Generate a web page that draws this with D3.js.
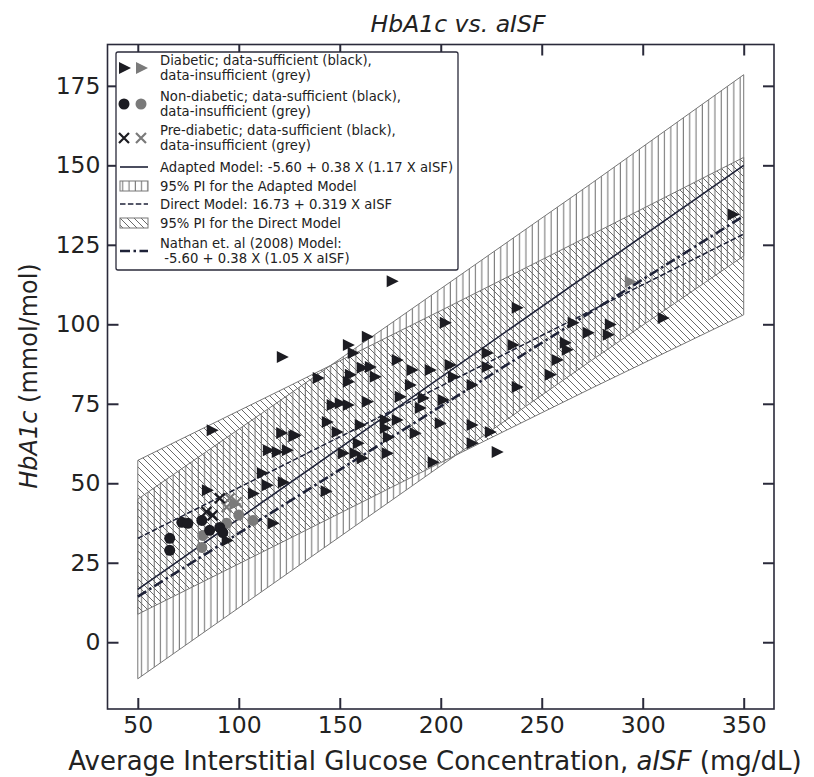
<!DOCTYPE html>
<html><head><meta charset="utf-8">
<script src="https://cdn.jsdelivr.net/npm/d3@7"></script>
<style>body{margin:0;background:#fff}svg{display:block}text{font-family:"DejaVu Sans",sans-serif;fill:#222}</style>
</head><body><svg id="c" width="814" height="777"></svg>
<script>
// ---------- data ----------
const xTicks = [50,100,150,200,250,300,350];
const yTicks = [0,25,50,75,100,125,150,175];
const modelX = [50,350];
const adaptedModel = x => -5.60 + 0.38*(1.17*x);
const directModel  = x => 16.73 + 0.319*x;
const nathanModel  = x => -5.60 + 0.38*(1.05*x);
const piX            = [50, 125, 200, 275, 350];
const adaptedLower   = [-11.5, 22.0, 55.5, 88.8, 121.5];
const adaptedUpper   = [45.0, 78.0, 111.2, 144.5, 178.5];
const directLower    = [8.8, 32.6, 56.5, 80.0, 103.0];
const directUpper    = [57.2, 80.6, 104.3, 128.3, 152.5];
const diabeticBlack = [[175.7,113.5],[121.3,89.7],[86.6,66.7],[121,65.8],[127,64.8],[114.4,60.4],[118.8,59.8],[123.8,60.4],[111.4,53.2],
 [237.6,105.2],[202,100.5],[163.4,96.1],[154,93.5],[156.4,91],[235.6,93.5],[178.2,88.8],[222.8,91],[160.9,86.3],[164.9,86.6],
 [167.3,83.5],[155,84.1],[154,81.9],[185.6,85.6],[194.6,85.6],[204.5,87.2],[206,83.5],[222.8,86.6],[139.1,83.1],[184.7,80.9],
 [215.3,80.9],[237.6,80.3],[146,74.6],[150,75.2],[154,74.6],[163.4,75.6],[179.7,77.2],[189.6,73.7],[191.1,76.8],[201,76.2],
 [143.6,69.3],[159.9,68.3],[172.3,69.9],[178.2,69.9],[199.5,68.9],[215.3,68.3],[224.3,66.1],[148.5,66.1],[172.3,67.4],[173.8,64.5],
 [187.1,65.7],[215.3,62.6],[158.9,62.6],[151.5,59.4],[157.4,59.4],[173.3,59.4],[196,56.6],[227.7,59.8],[127.7,65.1],[160.9,57.9],
 [344.6,134.5],[309.9,102],[265.3,100.5],[283.7,99.9],[282.7,96.7],[272.8,97.3],[261.4,94.2],[262.4,92],[257.4,88.8],[254,84.1],
 [84.2,47.8],[113.9,49.4],[121.8,50.3],[107,46.8],[116.8,37.4],[94,32],[143,47.5]];
const diabeticGrey = [[293.6,113.4],[98,43.5]];
const nonDiabeticBlack = [[65.8,32.7],[65.8,28.9],[71.8,37.7],[74.8,37.4],[81.7,38.3],[85.6,35.2],[90.6,36.1],[92.1,34.5]];
const nonDiabeticGrey  = [[81.7,29.8],[82.2,33.6],[94,37.4],[107,38.3],[100,40]];
const preDiabeticBlack = [[87,39.9],[90.6,45.3],[84,41]];
const preDiabeticGrey  = [[95.5,45.3],[94,42.5],[99,44]];
const legendItems = [
 ["tri","Diabetic; data-sufficient (black),","data-insufficient (grey)"],
 ["circ","Non-diabetic; data-sufficient (black),","data-insufficient (grey)"],
 ["x","Pre-diabetic; data-sufficient (black),","data-insufficient (grey)"],
 ["solid","Adapted Model: -5.60 + 0.38 X (1.17 X aISF)"],
 ["vhatch","95% PI for the Adapted Model"],
 ["dash","Direct Model: 16.73 + 0.319 X aISF"],
 ["dhatch","95% PI for the Direct Model"],
 ["dashdot","Nathan et. al (2008) Model:"," -5.60 + 0.38 X (1.05 X aISF)"]];

// ---------- chart ----------
const svg = d3.select("#c");
const L=107.5,R=774,T=44.5,B=709;
const x = d3.scaleLinear().domain([35,365]).range([L,R]);
const y = d3.scaleLinear().domain([-21,188]).range([B,T]);
const black="#1c1c22", grey="#7a7a7a", lineC="#1e2238", hatchC="#6a6a6a";

const defs = svg.append("defs");
const pv = defs.append("pattern").attr("id","vh").attr("patternUnits","userSpaceOnUse").attr("width",6.3).attr("height",10);
pv.append("line").attr("x1",3).attr("x2",3).attr("y1",0).attr("y2",10).attr("stroke",hatchC).attr("stroke-width",1);
const pd = defs.append("pattern").attr("id","dh").attr("patternUnits","userSpaceOnUse").attr("width",7).attr("height",7);
pd.append("path").attr("d","M-1,-1L8,8M-2,5L2,9M5,-2L9,2").attr("stroke",hatchC).attr("stroke-width",1);

function band(lo,hi,pat){
  const a = d3.area().x((d,i)=>x(piX[i])).y0((d,i)=>y(lo[i])).y1((d,i)=>y(hi[i]));
  svg.append("path").attr("d",a(piX)).attr("fill","url(#"+pat+")").attr("stroke","#777").attr("stroke-width",1);
}
band(adaptedLower,adaptedUpper,"vh");
band(directLower,directUpper,"dh");

const ln = f => d3.line().x(d=>x(d)).y(d=>y(f(d)))(modelX);
svg.append("path").attr("d",ln(adaptedModel)).attr("fill","none").attr("stroke",lineC).attr("stroke-width",1.6);
svg.append("path").attr("d",ln(directModel)).attr("fill","none").attr("stroke",lineC).attr("stroke-width",1.5).attr("stroke-dasharray","5.5,2.4");
svg.append("path").attr("d",ln(nathanModel)).attr("fill","none").attr("stroke",lineC).attr("stroke-width",2.6).attr("stroke-dasharray","10,3.5,2.5,3.5");

const triPath = "M-5,-6L7,0L-5,6Z";
function tri(g,px,py,c){g.append("path").attr("d",triPath).attr("transform",`translate(${px},${py})`).attr("fill",c);}
function circ(g,px,py,c){g.append("circle").attr("cx",px).attr("cy",py).attr("r",5.5).attr("fill",c);}
function xm(g,px,py,c){g.append("path").attr("d","M-5,-5L5,5M-5,5L5,-5").attr("transform",`translate(${px},${py})`).attr("stroke",c).attr("stroke-width",2.2);}
const pts = svg.append("g");
diabeticGrey.forEach(d=>tri(pts,x(d[0]),y(d[1]),grey));
nonDiabeticGrey.forEach(d=>circ(pts,x(d[0]),y(d[1]),grey));
preDiabeticGrey.forEach(d=>xm(pts,x(d[0]),y(d[1]),grey));
diabeticBlack.forEach(d=>tri(pts,x(d[0]),y(d[1]),black));
nonDiabeticBlack.forEach(d=>circ(pts,x(d[0]),y(d[1]),black));
preDiabeticBlack.forEach(d=>xm(pts,x(d[0]),y(d[1]),black));

// axes (ticks inward on all four sides)
const ax = svg.append("g");
ax.append("rect").attr("x",L).attr("y",T).attr("width",R-L).attr("height",B-T).attr("fill","none").attr("stroke","#2a2a3a").attr("stroke-width",1.6);
const xa = ax.append("g").attr("transform",`translate(0,${B})`).call(d3.axisBottom(x).tickValues(xTicks).tickSize(-11).tickPadding(7));
const xt = ax.append("g").attr("transform",`translate(0,${T})`).call(d3.axisTop(x).tickValues(xTicks).tickSize(-11).tickFormat(""));
const ya = ax.append("g").attr("transform",`translate(${L},0)`).call(d3.axisLeft(y).tickValues(yTicks).tickSize(-11).tickPadding(7));
const yr = ax.append("g").attr("transform",`translate(${R},0)`).call(d3.axisRight(y).tickValues(yTicks).tickSize(-11).tickFormat(""));
[xa,xt,ya,yr].forEach(g=>{g.select(".domain").remove();g.selectAll(".tick line").attr("stroke","#2a2a3a").attr("stroke-width",2);
  g.selectAll("text").style("font-family","DejaVu Sans").style("font-size","23.5px").attr("fill","#222");});
xa.selectAll("text").attr("dy","0.71em");

// labels
svg.append("text").attr("x",458).attr("y",32).attr("text-anchor","middle").style("font-size","23.5px").style("font-style","italic").text("HbA1c vs. aISF");
const xl = svg.append("text").attr("x",435).attr("y",770).attr("text-anchor","middle").style("font-size","26px");
xl.append("tspan").text("Average Interstitial Glucose Concentration, ");
xl.append("tspan").style("font-style","italic").text("aISF");
xl.append("tspan").text(" (mg/dL)");
const yl = svg.append("text").attr("transform","translate(37,376) rotate(-90)").attr("text-anchor","middle").style("font-size","24px");
yl.append("tspan").style("font-style","italic").text("HbA1c");
yl.append("tspan").text(" (mmol/mol)");

// legend
const lg = svg.append("g");
lg.append("rect").attr("x",116).attr("y",52).attr("width",342).attr("height",218).attr("fill","#fff").attr("stroke","#2a2a3a").attr("stroke-width",1.3).attr("rx",2);
const rowY = [68,104,138,167,186,204,223,251];
legendItems.forEach((it,i)=>{
  const cy = rowY[i], type=it[0];
  if(type==="tri"){tri(lg,124,cy,black);tri(lg,141,cy,grey);}
  if(type==="circ"){circ(lg,124,cy,black);circ(lg,141,cy,grey);}
  if(type==="x"){xm(lg,124,cy,black);xm(lg,141,cy,grey);}
  if(type==="solid") lg.append("line").attr("x1",120).attr("x2",148).attr("y1",cy).attr("y2",cy).attr("stroke",lineC).attr("stroke-width",1.6);
  if(type==="dash") lg.append("line").attr("x1",120).attr("x2",148).attr("y1",cy).attr("y2",cy).attr("stroke",lineC).attr("stroke-width",1.5).attr("stroke-dasharray","5.5,2.4");
  if(type==="dashdot") lg.append("line").attr("x1",120).attr("x2",148).attr("y1",cy).attr("y2",cy).attr("stroke",lineC).attr("stroke-width",2.6).attr("stroke-dasharray","10,3.5,2.5,3.5");
  if(type==="vhatch") lg.append("rect").attr("x",120).attr("y",cy-5).attr("width",28).attr("height",10).attr("fill","url(#vh)").attr("stroke","#777");
  if(type==="dhatch") lg.append("rect").attr("x",120).attr("y",cy-5).attr("width",28).attr("height",10).attr("fill","url(#dh)").attr("stroke","#777");
  const tx = lg.append("text").attr("x",160).style("font-size","13.2px");
  if(it.length===3){
    tx.append("tspan").attr("x",160).attr("y",cy-3).text(it[1]);
    tx.append("tspan").attr("x",160).attr("y",cy+12).text(it[2]);
  } else tx.attr("y",cy+4.5).text(it[1]);
});
</script></body></html>
